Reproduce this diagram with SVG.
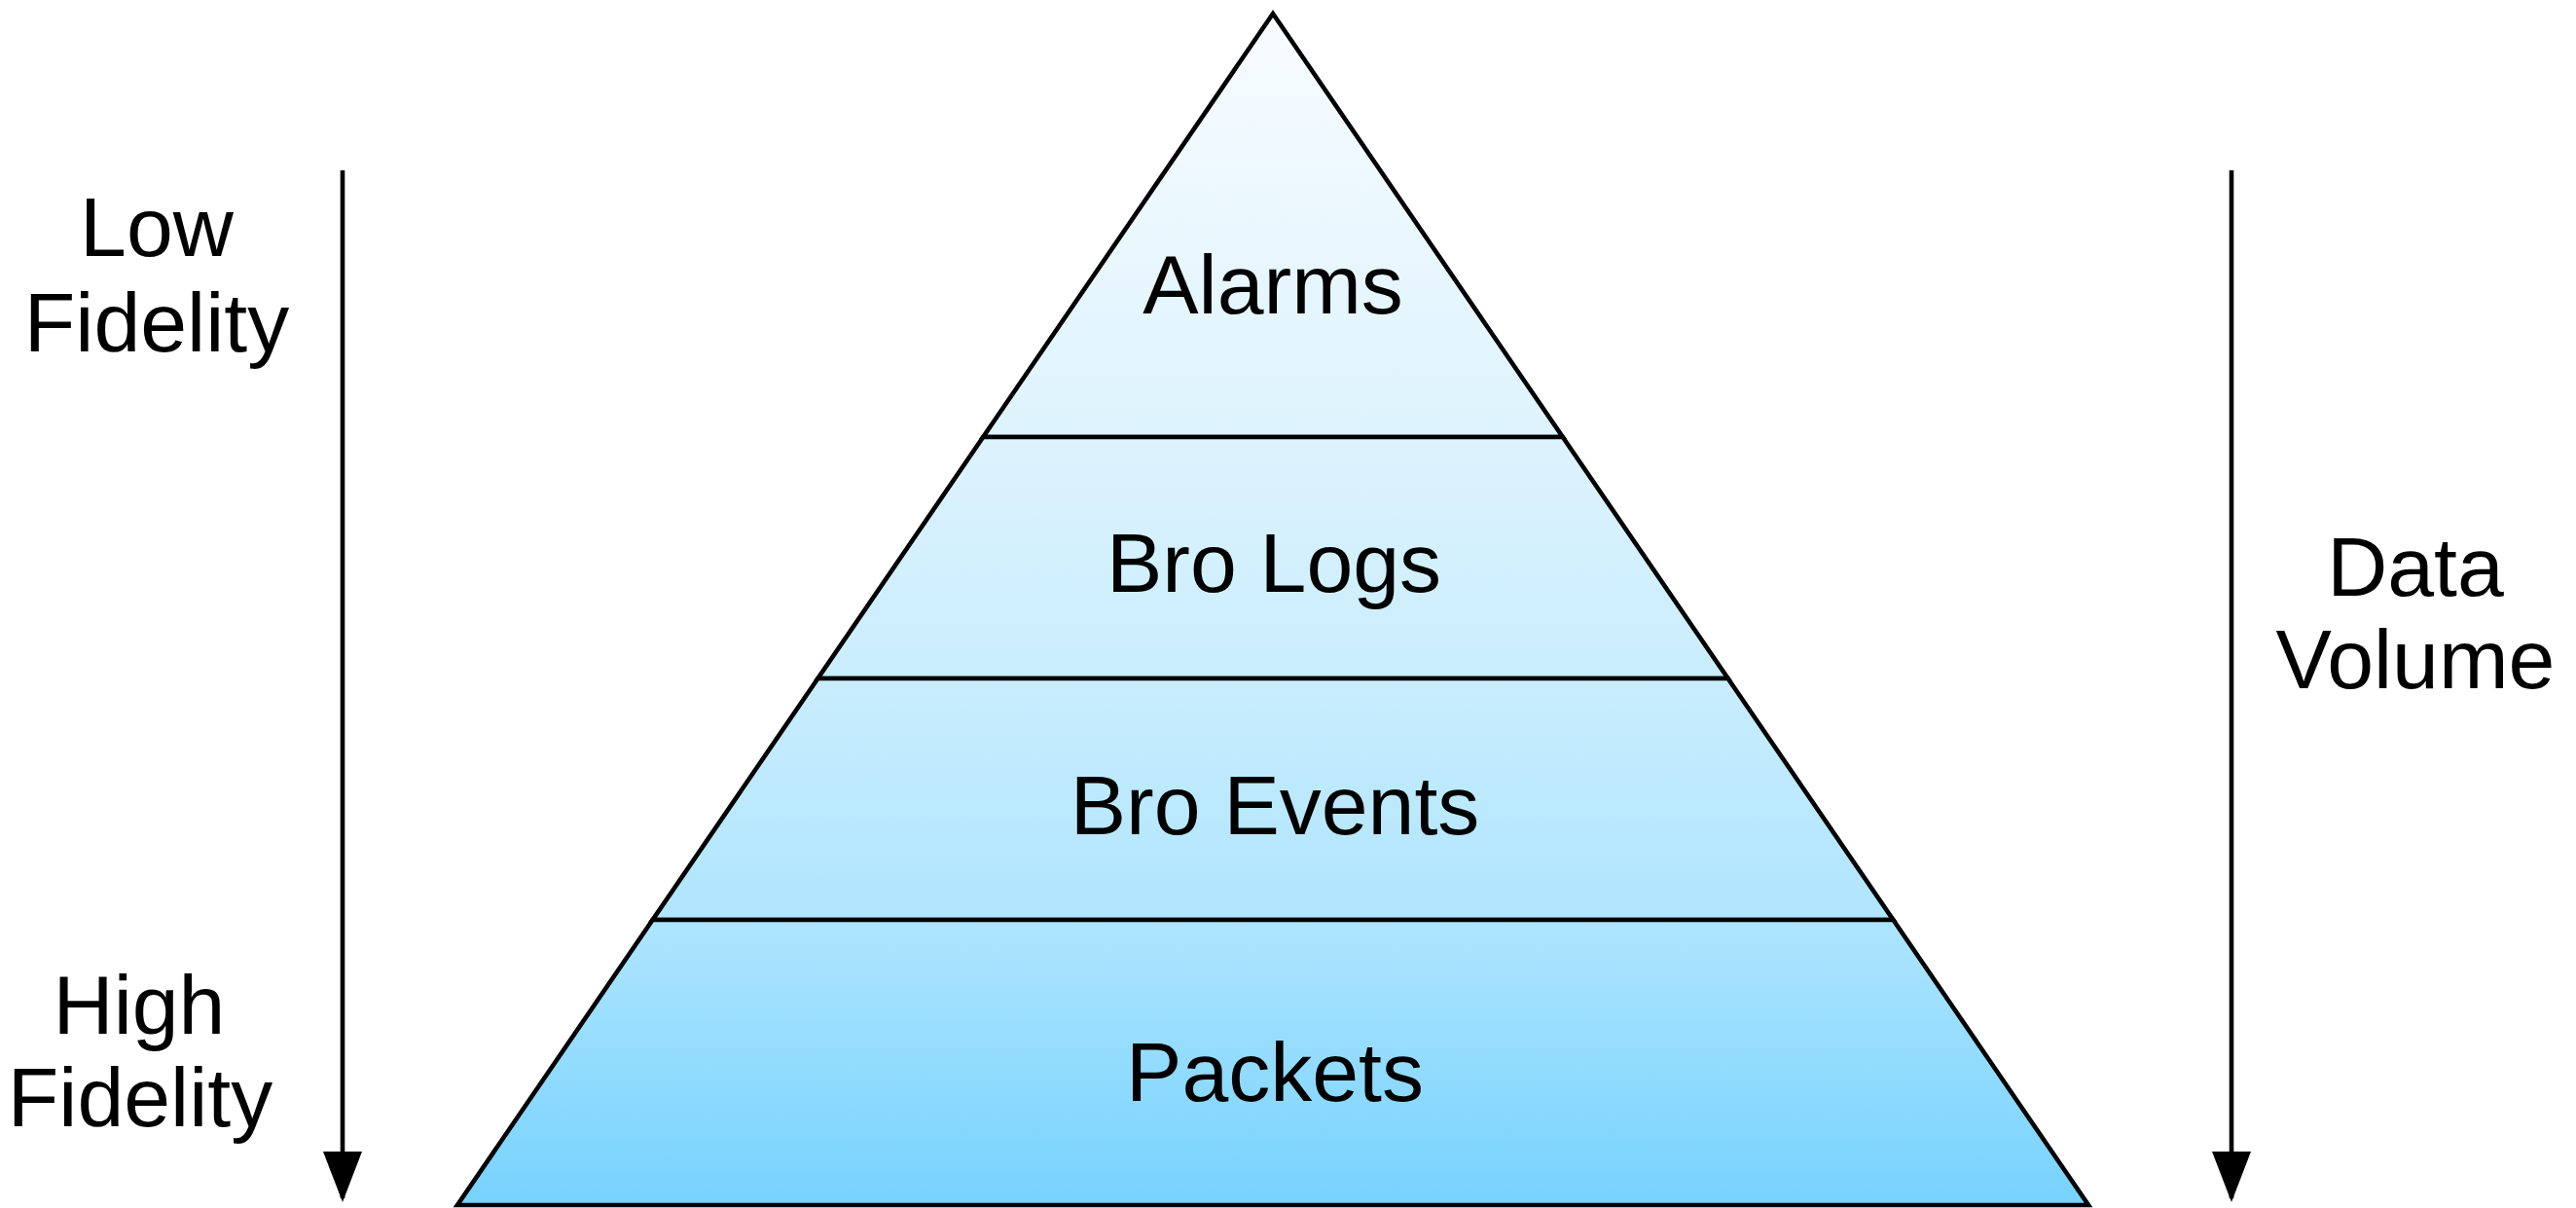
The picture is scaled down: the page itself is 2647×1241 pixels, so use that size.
<svg xmlns="http://www.w3.org/2000/svg" width="2647" height="1241" viewBox="0 0 2647 1241">
  <style>
    .lbl { font-family: "Liberation Sans", Arial, Helvetica, sans-serif; font-size: 86px; fill: #000; text-anchor: middle; }
    .layer { fill: url(#pyr); stroke: #000; stroke-width: 4.6; stroke-linejoin: miter; }
    .arrow { stroke: #000; stroke-width: 4.6; fill: none; marker-end: url(#head); }
  </style>
  <defs>
    <linearGradient id="pyr" gradientUnits="userSpaceOnUse" x1="0" y1="14" x2="0" y2="1238">
      <stop offset="0" stop-color="#f8fcff"/>
      <stop offset="0.355" stop-color="#ddf3fd"/>
      <stop offset="0.558" stop-color="#c9edfd"/>
      <stop offset="0.76" stop-color="#afe5fe"/>
      <stop offset="1" stop-color="#76d2fd"/>
    </linearGradient>
    <marker id="head" viewBox="0 0 52 40" refX="48" refY="20" markerWidth="52" markerHeight="40" markerUnits="userSpaceOnUse" orient="auto">
      <path d="M0,0 L52,20 L0,40 Z" fill="#000"/>
    </marker>
  </defs>
  <rect width="2647" height="1241" fill="#fff"/>

  <g id="layer-alarms">
    <polygon class="layer" points="1308,14 1605.8,449 1010.2,449"/>
    <text class="lbl" x="1308" y="322">Alarms</text>
  </g>
  <g id="layer-bro-logs">
    <polygon class="layer" points="1010.2,449 1605.8,449 1775.6,697 840.4,697"/>
    <text class="lbl" x="1309" y="608">Bro Logs</text>
  </g>
  <g id="layer-bro-events">
    <polygon class="layer" points="840.4,697 1775.6,697 1945.4,945 670.6,945"/>
    <text class="lbl" x="1310" y="857">Bro Events</text>
  </g>
  <g id="layer-packets">
    <polygon class="layer" points="670.6,945 1945.4,945 2146,1238 470,1238"/>
    <text class="lbl" x="1310" y="1131">Packets</text>
  </g>

  <g id="label-fidelity">
    <text class="lbl" x="161" y="263">Low</text>
    <text class="lbl" x="161" y="361">Fidelity</text>
    <text class="lbl" x="143" y="1062">High</text>
    <text class="lbl" x="144" y="1157">Fidelity</text>
  </g>
  <g id="label-volume">
    <text class="lbl" x="2482" y="612">Data</text>
    <text class="lbl" x="2482" y="707">Volume</text>
  </g>

  <g id="connectors">
    <line class="arrow" x1="352" y1="175" x2="352" y2="1231"/>
    <line class="arrow" x1="2293" y1="175" x2="2293" y2="1231"/>
  </g>
</svg>
